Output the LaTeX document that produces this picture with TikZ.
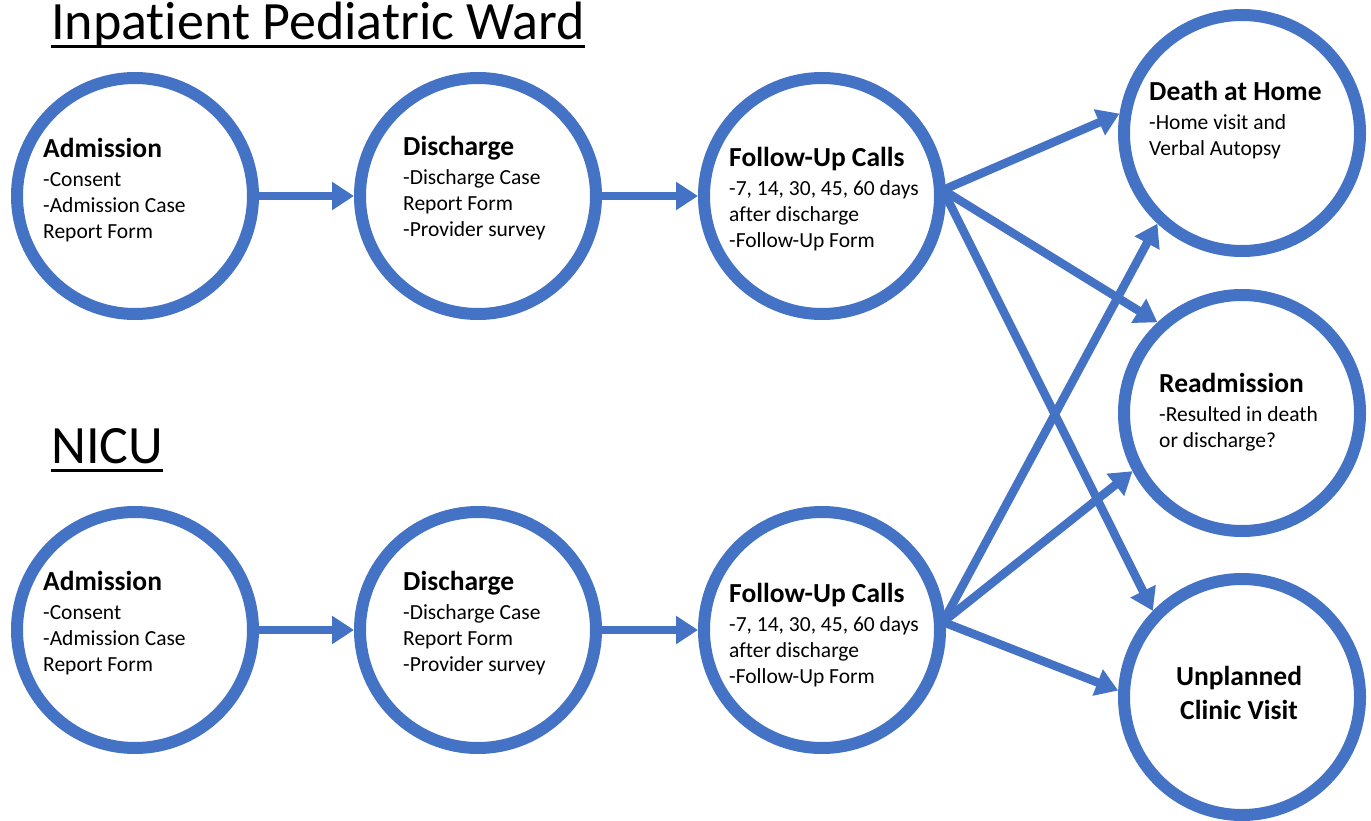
\documentclass[tikz,border=0pt]{standalone}
\usepackage{fontspec}
\setmainfont{Carlito}[Ligatures=NoCommon]
\usetikzlibrary{arrows.meta}
\definecolor{obl}{HTML}{4472C4}
\tikzset{
  circ/.style={circle, draw=obl, line width=12pt, minimum size=236pt, inner sep=0pt, fill=white},
  flow/.style={draw=obl, line width=8.5pt, -{Triangle[length=22pt,width=27pt]}},
  txt/.style={anchor=north west, inner sep=0pt, align=left, font=\fontsize{21.5}{26}\selectfont},
  ttl/.style={anchor=base west, inner sep=0pt, font=\fontsize{54}{60}\selectfont},
  uline/.style={line width=3pt},
}
\newcommand{\hd}[1]{{\fontsize{27.5}{31}\selectfont\bfseries #1}}
\begin{document}
\begin{tikzpicture}[x=1pt,y=-1pt]
\useasboundingbox (0,0) rectangle (1371,821);
% titles
\node[ttl] (t1) at (51,40) {Inpatient Pediatric Ward};
\node[ttl] (t2) at (51,463) {NICU};
\draw[uline] ([yshift=-7pt]t1.base west) -- ([yshift=-7pt]t1.base east);
\draw[uline] ([yshift=-7pt]t2.base west) -- ([yshift=-7pt]t2.base east);
% circles
\node[circ] (a1) at (135,196) {};
\node[circ] (d1) at (478,196) {};
\node[circ] (f1) at (822,196) {};
\node[circ] (a2) at (135,630) {};
\node[circ] (d2) at (478,630) {};
\node[circ] (f2) at (822,630) {};
\node[circ] (dh) at (1242,133) {};
\node[circ] (rd) at (1242,413) {};
\node[circ] (uc) at (1242,697) {};
% texts
\node[txt] (ta1) at (43,138) {\hd{Admission}\\[3pt]-Consent\\-Admission Case\\Report Form};
\node[txt] (td1) at (403,136) {\hd{Discharge}\\[3pt]-Discharge Case\\Report Form\\-Provider survey};
\node[txt] (tf1) at (729,147) {\hd{Follow-Up Calls}\\[3pt]-7, 14, 30, 45, 60 days\\after discharge\\-Follow-Up Form};
\node[txt] (ta2) at (43,571) {\hd{Admission}\\[3pt]-Consent\\-Admission Case\\Report Form};
\node[txt] (td2) at (403,571) {\hd{Discharge}\\[3pt]-Discharge Case\\Report Form\\-Provider survey};
\node[txt] (tf2) at (729,583) {\hd{Follow-Up Calls}\\[3pt]-7, 14, 30, 45, 60 days\\after discharge\\-Follow-Up Form};
\node[txt] (tdh) at (1149,81) {\hd{Death at Home}\\[3pt]-Home visit and\\Verbal Autopsy};
\node[txt] (trd) at (1159,373) {\hd{Readmission}\\[3pt]-Resulted in death\\or discharge?};
\node[anchor=center, inner sep=0pt, align=center, font=\fontsize{27.5}{34}\selectfont\bfseries] (tuc) at (1239,693) {Unplanned\\Clinic Visit};
% arrows
\draw[flow] (a1.east) -- (d1.west);
\draw[flow] (d1.east) -- (f1.west);
\draw[flow] (a2.east) -- (d2.west);
\draw[flow] (d2.east) -- (f2.west);
\coordinate (s1) at (943,190);
\coordinate (s2) at (943,622);
\draw[flow] (s1) -- (dh.171);
\draw[flow] (s1) -- (rd.133);
\draw[flow] (s1) -- (uc.136);
\draw[flow] (s2) -- (dh.227);
\draw[flow] (s2) -- (rd.208);
\draw[flow] (s2) -- (uc.177);
\end{tikzpicture}
\end{document}
